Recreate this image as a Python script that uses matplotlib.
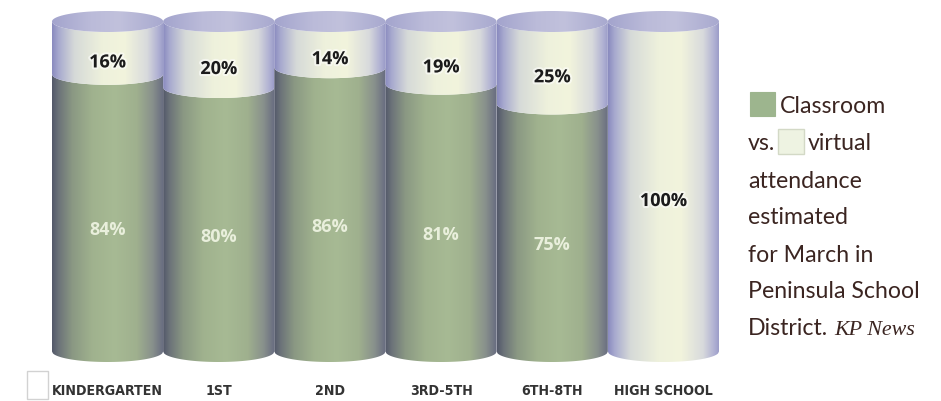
import numpy as np
import matplotlib
matplotlib.use("Agg")
import matplotlib.pyplot as plt
from matplotlib.path import Path
from matplotlib.patches import PathPatch, Rectangle
from matplotlib.colors import LinearSegmentedColormap
from matplotlib import font_manager
from matplotlib.font_manager import FontProperties
import matplotlib.patheffects as pe

# ---------------- data ----------------
categories = ['KINDERGARTEN', '1ST', '2ND', '3RD-5TH', '6TH-8TH', 'HIGH SCHOOL']
classroom = [84, 80, 86, 81, 75, 0]      # % classroom attendance (green)
virtual = [16, 20, 14, 19, 25, 100]      # % virtual attendance (light)

legend_lines = ['attendance', 'estimated', 'for March in', 'Peninsula School']

# ---------------- figure ----------------
W, H = 941, 402
fig = plt.figure(figsize=(W / 100, H / 100), dpi=100)
fig.patch.set_facecolor('white')

PXU = 3.3          # pixels per percent unit
BASE_PX = 352.5    # pixel row of the 0 % level (bottom ellipse centre)
ylo = (BASE_PX - H) / PXU
yhi = BASE_PX / PXU
ax = fig.add_axes([52 / W, 0, 667 / W, 1])
ax.set_xlim(-0.5, 5.5)
ax.set_ylim(ylo, yhi)
ax.axis('off')


def py(p):
    """pixel row -> data y"""
    return (BASE_PX - p) / PXU


b = 10.5 / PXU     # ellipse semi-minor axis (data units)
w = 0.5            # half width of a cylinder

green_cmap = LinearSegmentedColormap.from_list('green', [
    (0.00, '#53586a'), (0.06, '#6c7379'), (0.18, '#8a9883'),
    (0.36, '#a0b28e'), (0.56, '#a7ba94'), (0.76, '#9fb08e'),
    (0.90, '#88908c'), (1.00, '#676b80')])
white_cmap = LinearSegmentedColormap.from_list('white', [
    (0.00, '#8a8bbf'), (0.06, '#a8aacf'), (0.20, '#d6dad8'),
    (0.45, '#eef1dc'), (0.65, '#f2f4dd'), (0.85, '#d8dadc'),
    (0.95, '#b0b1d3'), (1.00, '#9899c7')])
cap_cmap = LinearSegmentedColormap.from_list('cap', [
    (0.0, '#a3a4cd'), (0.35, '#bbbbd9'), (0.6, '#c1c1dc'), (1.0, '#a8a9cf')])

grad = np.linspace(0, 1, 256)[None, :]


def fill_gradient(path, cmap, c, y0, y1, z):
    patch = PathPatch(path, facecolor='none', edgecolor='none',
                      transform=ax.transData)
    im = ax.imshow(grad, cmap=cmap, extent=[c - w, c + w, y0, y1],
                   aspect='auto', origin='lower', interpolation='bilinear',
                   zorder=z)
    im.set_clip_path(patch)


def segment_path(c, y0, y1):
    t = np.linspace(-1, 1, 120)
    xs = c + w * t
    sag = b * np.sqrt(1 - t ** 2)
    bottom = np.column_stack([xs, y0 - sag])
    top = np.column_stack([xs[::-1], (y1 - sag)[::-1]])
    verts = np.vstack([bottom, top, bottom[:1]])
    return Path(verts, closed=True)


def cap_path(c, y):
    th = np.linspace(0, 2 * np.pi, 160)
    verts = np.column_stack([c + w * np.cos(th), y + b * np.sin(th)])
    verts = np.vstack([verts, verts[:1]])
    return Path(verts, closed=True)


top_font = dict(family=['Open Sans', 'DejaVu Sans'], weight='bold', size=13)
glow_dark = [pe.withStroke(linewidth=3, foreground='#ffffff', alpha=0.55)]

for i, (g, v) in enumerate(zip(classroom, virtual)):
    z = 2 + i * 0.1
    total = g + v
    if g > 0:
        fill_gradient(segment_path(i, 0, g), green_cmap, i, -b - 1, g + 1, z)
    if v > 0:
        fill_gradient(segment_path(i, g, total), white_cmap, i, g - b - 1,
                      total + 1, z + 0.01)
    fill_gradient(cap_path(i, total), cap_cmap, i, total - b - 1,
                  total + b + 1, z + 0.02)

    ax.text(i, (total + g) / 2 - 4.4, f'{v}%', ha='center', va='center',
            color='#1b1b1b', zorder=10, path_effects=glow_dark, **top_font)
    if g > 0:
        ax.text(i, g / 2 - 5, f'{g}%', ha='center', va='center',
                color='#e9efdc', zorder=10, **top_font)

# ---- condensed bold font for the category labels, if one is installed ----
cond_file = None
for f in font_manager.fontManager.ttflist:
    wt = f.weight if isinstance(f.weight, int) else 700 if 'bold' in str(f.weight) else 400
    if wt >= 600 and f.style == 'normal' and (
            'Narrow' in f.name or 'Condensed' in f.name
            or str(f.stretch) in ('condensed', 'semi-condensed')):
        if 'Liberation' in f.name:
            cond_file = f.fname
            break
        if cond_file is None:
            cond_file = f.fname
if cond_file:
    cat_fp = FontProperties(fname=cond_file, size=11)
else:
    cat_fp = FontProperties(family='DejaVu Sans', weight='bold', size=11)

cat_texts = []
for i, cat in enumerate(categories):
    t = ax.text(i, py(395), cat, ha='center', va='baseline', color='#333333',
                fontproperties=cat_fp.copy())
    cat_texts.append(t)

fig.canvas.draw()
r = fig.canvas.get_renderer()
kw = cat_texts[0].get_window_extent(r).width
target_size = 12.5 / 0.73 * 72 / 100         # cap height ~12.5 px
size_by_width = 11 * 112 / kw
new_size = min(target_size, size_by_width)
for t in cat_texts:
    t.set_fontsize(new_size)

# small empty box at the lower left
fig.add_artist(Rectangle((27 / W, 1 - 400 / H), 21 / W, 28 / H,
                         transform=fig.transFigure, facecolor='white',
                         edgecolor='#d2d2d2', linewidth=1))

# ---------------- legend / caption ----------------
txt_color = '#3b2521'
lfont = dict(family=['Lato', 'DejaVu Sans'], size=15, color=txt_color)


def fx(p):
    return p / W


def fy(p):
    return 1 - p / H


probe = fig.text(fx(748), fy(297), 'Peninsula School', va='baseline', **lfont)
pw = probe.get_window_extent(r).width
lsize = 15 * 172 / pw
probe.remove()
lfont['size'] = lsize

fig.add_artist(Rectangle((fx(750), fy(117)), 25 / W, 24 / H,
                         transform=fig.transFigure, facecolor='#9db58e',
                         edgecolor='#9db58e', linewidth=0.8))
fig.text(fx(780), fy(113), 'Classroom', va='baseline', **lfont)

fig.text(fx(748), fy(150.5), 'vs.', va='baseline', **lfont)
fig.add_artist(Rectangle((fx(778), fy(155)), 26 / W, 25 / H,
                         transform=fig.transFigure, facecolor='#eef3e2',
                         edgecolor='#d3d9c6', linewidth=1))
fig.text(fx(808), fy(150.5), 'virtual', va='baseline', **lfont)

base = 187.5
for k, line in enumerate(legend_lines):
    fig.text(fx(748), fy(base + 37 * k), line, va='baseline', **lfont)

dt = fig.text(fx(748), fy(base + 37 * 4), 'District.', va='baseline', **lfont)
dw = dt.get_window_extent(r).width
fig.text(fx(748 + dw + 6), fy(base + 37 * 4), 'KP News', va='baseline',
         family=['Liberation Serif', 'DejaVu Serif'], style='italic',
         size=lsize * 0.95, color=txt_color)

fig.savefig('out.png', dpi=100, facecolor='white')
